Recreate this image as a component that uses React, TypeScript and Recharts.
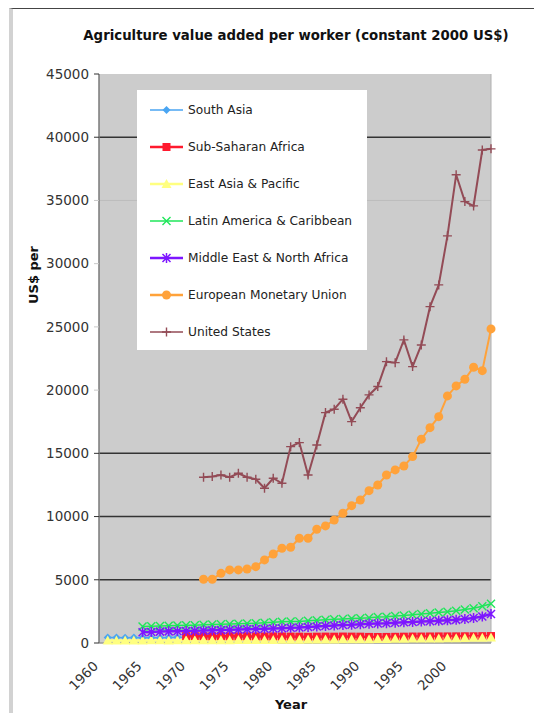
import React from "react";
import { LineChart, Line, XAxis, YAxis, CartesianGrid, ReferenceLine, Legend } from "recharts";

const years = [
  1960, 1961, 1962, 1963, 1964, 1965, 1966, 1967, 1968, 1969,
  1970, 1971, 1972, 1973, 1974, 1975, 1976, 1977, 1978, 1979,
  1980, 1981, 1982, 1983, 1984, 1985, 1986, 1987, 1988, 1989,
  1990, 1991, 1992, 1993, 1994, 1995, 1996, 1997, 1998, 1999,
  2000, 2001, 2002, 2003, 2004, 2005,
];
const xTicks = [1960, 1965, 1970, 1975, 1980, 1985, 1990, 1995, 2000];
const yTicks = [0, 5000, 10000, 15000, 20000, 25000, 30000, 35000, 40000, 45000];
const darkGrid = [5000, 10000, 15000, 40000];
const faintGrid = [35000];

// each series starts at its own year, values run to 2005
const southAsiaStart = 1961;
const southAsia = [
  430, 435, 425, 440, 420, 410, 425, 440, 445, 450, 440, 430, 435, 425, 445,
  440, 450, 455, 440, 450, 460, 465, 470, 470, 475, 480, 475, 485, 490, 495,
  495, 500, 500, 505, 505, 510, 515, 515, 520, 520, 525, 525, 520, 530, 535,
];
const subSaharanStart = 1970;
const subSaharan = [
  540, 545, 535, 530, 540, 530, 525, 530, 520, 515, 520, 515, 505, 500, 490,
  500, 505, 500, 510, 505, 500, 480, 475, 480, 490, 500, 510, 510, 515, 520,
  520, 525, 530, 530, 540, 550,
];
const eastAsiaStart = 1961;
const eastAsia = [
  190, 195, 200, 205, 205, 210, 210, 205, 210, 215, 220, 220, 225, 220, 225,
  230, 230, 235, 240, 240, 250, 255, 265, 270, 275, 280, 285, 290, 295, 300,
  305, 315, 325, 335, 345, 350, 350, 355, 365, 375, 385, 395, 410, 425, 440,
];
const latinAmericaStart = 1965;
const latinAmerica = [
  1300, 1320, 1350, 1360, 1380, 1400, 1410, 1440, 1460, 1480, 1500, 1520, 1540, 1570,
  1610, 1650, 1680, 1700, 1710, 1760, 1800, 1840, 1880, 1900, 1930, 1960, 2000, 2060,
  2080, 2130, 2170, 2230, 2300, 2360, 2420, 2480, 2560, 2650, 2750, 2900, 3100,
];
const middleEastStart = 1965;
const middleEast = [
  850, 870, 900, 920, 930, 950, 960, 980, 1000, 1020, 1050, 1070, 1090, 1110,
  1130, 1150, 1170, 1200, 1220, 1260, 1300, 1340, 1380, 1420, 1440, 1480, 1520, 1540,
  1560, 1600, 1640, 1660, 1700, 1720, 1750, 1790, 1830, 1900, 1980, 2100, 2300,
];
const euroStart = 1972;
const euro = [
  5040, 5040, 5510, 5780, 5780, 5850, 6040, 6570, 7040, 7490, 7570, 8280,
  8280, 9000, 9260, 9730, 10260, 10860, 11310, 12050, 12500, 13290, 13690, 14000,
  14740, 16120, 17030, 17900, 19540, 20330, 20860, 21810, 21540, 24840,
];
const usStart = 1972;
const unitedStates = [
  13110, 13160, 13290, 13110, 13425, 13110, 12950, 12240, 13030, 12630, 15530, 15850,
  13290, 15660, 18220, 18490, 19280, 17510, 18610, 19620, 20280, 22250, 22170, 23970,
  21860, 23570, 26600, 28320, 32200, 37030, 34910, 34570, 38990, 39080,
];

const series = [
  { key: "sa", name: "South Asia", start: southAsiaStart, values: southAsia, color: "#4aa5f2", shape: "diamond", size: 8, width: 1.5 },
  { key: "ssa", name: "Sub-Saharan Africa", start: subSaharanStart, values: subSaharan, color: "#ff1a2e", shape: "square", size: 8, width: 2.5 },
  { key: "eap", name: "East Asia & Pacific", start: eastAsiaStart, values: eastAsia, color: "#ffff80", shape: "triangle", size: 10, width: 2.5 },
  { key: "lac", name: "Latin America & Caribbean", start: latinAmericaStart, values: latinAmerica, color: "#1fe65a", shape: "x", size: 8, width: 1.5 },
  { key: "mena", name: "Middle East & North Africa", start: middleEastStart, values: middleEast, color: "#7d16ff", shape: "star", size: 8, width: 2.5 },
  { key: "emu", name: "European Monetary Union", start: euroStart, values: euro, color: "#ffa23a", shape: "circle", size: 9, width: 2 },
  { key: "us", name: "United States", start: usStart, values: unitedStates, color: "#934b56", shape: "plus", size: 9, width: 2 },
];

const data = years.map((year) => {
  const row: any = { year };
  series.forEach((s) => {
    const i = year - s.start;
    row[s.key] = i >= 0 && i < s.values.length ? s.values[i] : null;
  });
  return row;
});

const font = "'DejaVu Sans', Verdana, sans-serif";

function Marker({ cx, cy, shape, color, size }: any) {
  if (cx == null || cy == null || isNaN(cy)) return null;
  const h = size / 2;
  switch (shape) {
    case "diamond":
      return <polygon points={`${cx},${cy - h} ${cx + h},${cy} ${cx},${cy + h} ${cx - h},${cy}`} fill={color} />;
    case "square":
      return <rect x={cx - h} y={cy - h} width={size} height={size} fill={color} />;
    case "triangle":
      return <polygon points={`${cx},${cy - h} ${cx + h},${cy + h - 1} ${cx - h},${cy + h - 1}`} fill={color} />;
    case "x":
      return <path d={`M${cx - h},${cy - h}L${cx + h},${cy + h}M${cx + h},${cy - h}L${cx - h},${cy + h}`} stroke={color} strokeWidth={1.4} />;
    case "star":
      return (
        <path
          d={`M${cx - h},${cy - h}L${cx + h},${cy + h}M${cx + h},${cy - h}L${cx - h},${cy + h}M${cx},${cy - h - 1}L${cx},${cy + h + 1}`}
          stroke={color}
          strokeWidth={1.5}
        />
      );
    case "circle":
      return <circle cx={cx} cy={cy} r={h} fill={color} />;
    case "plus":
      return <path d={`M${cx - h},${cy}L${cx + h},${cy}M${cx},${cy - h}L${cx},${cy + h}`} stroke={color} strokeWidth={1.4} />;
    default:
      return null;
  }
}

function YTick({ x, y, payload }: any) {
  const v = payload.value;
  const dark = v === 0 || v === 45000 || darkGrid.includes(v);
  return (
    <g>
      <line x1={x + 5} x2={x + 10} y1={y} y2={y} stroke={dark ? "#333" : "#c8c8c8"} />
      <text x={x} y={y} dy="0.35em" textAnchor="end" fontSize={13.5} fontFamily={font} fill="#333">
        {v}
      </text>
    </g>
  );
}

function XTick({ x, y, payload }: any) {
  const ax = x;
  const ay = y + 24;
  return (
    <text x={ax} y={ay} transform={`rotate(-45 ${ax} ${ay})`} textAnchor="end" fontSize={13.5} fontFamily={font} fill="#333">
      {payload.value}
    </text>
  );
}

function LegendBox() {
  return (
    <svg width={230} height={260} style={{ display: "block" }}>
      {series.map((s, i) => {
        const cy = 20 + i * 37;
        return (
          <g key={s.key}>
            <line x1={13} x2={46} y1={cy} y2={cy} stroke={s.color} strokeWidth={s.key === "sa" || s.key === "lac" || s.key === "us" ? 1.5 : 2.5} />
            <Marker cx={29.5} cy={cy} shape={s.shape} color={s.color} size={s.size} />
            <text x={51} y={cy} dy="0.35em" fontSize={12.2} fontFamily={font} fill="#222">
              {s.name}
            </text>
          </g>
        );
      })}
    </svg>
  );
}

export default function App() {
  return (
    <div style={{ position: "relative", width: 534, height: 713, background: "#fff", overflow: "hidden" }}>
      <style>{`html, body { margin: 0; padding: 0; overflow: hidden; }`}</style>
      <div
        style={{
          position: "absolute",
          left: 9,
          top: 8,
          width: 525,
          height: 705,
          boxSizing: "border-box",
          borderTop: "1px solid #444",
          borderLeft: "4px solid #d2d2d2",
        }}
      />
      <div
        style={{
          position: "absolute",
          left: 0,
          width: 592,
          top: 28,
          textAlign: "center",
          fontFamily: font,
          fontWeight: "bold",
          fontSize: 13.3,
          color: "#111",
        }}
      >
        Agriculture value added per worker (constant 2000 US$)
      </div>
      <div
        style={{
          position: "absolute",
          left: 33,
          top: 275,
          transform: "translate(-50%, -50%) rotate(-90deg)",
          fontFamily: font,
          fontWeight: "bold",
          fontSize: 13,
          color: "#111",
          whiteSpace: "nowrap",
        }}
      >
        US$ per
      </div>
      <div style={{ position: "absolute", left: 0, top: 0 }}>
        <LineChart width={534} height={713} data={data} margin={{ top: 74, right: 43, left: 0, bottom: 0 }}>
          <CartesianGrid fill="#cccccc" horizontal={false} vertical={false} stroke="none" />
          {faintGrid.map((v) => (
            <ReferenceLine key={"f" + v} y={v} stroke="#bdbdbd" strokeWidth={1} />
          ))}
          {darkGrid.map((v) => (
            <ReferenceLine key={"d" + v} y={v} stroke="#333" strokeWidth={1.5} />
          ))}
          <ReferenceLine x={2005} stroke="#b0b0b0" strokeWidth={1} />
          <XAxis
            dataKey="year"
            type="number"
            domain={[1960, 2005]}
            ticks={xTicks}
            height={70}
            tick={<XTick />}
            tickLine={false}
            tickSize={0}
            tickMargin={0}
            axisLine={{ stroke: "#999", strokeWidth: 1.5 }}
            interval={0}
          />
          <YAxis
            domain={[0, 45000]}
            ticks={yTicks}
            width={99}
            tick={<YTick />}
            tickLine={false}
            tickSize={5}
            tickMargin={5}
            axisLine={{ stroke: "#7a7a7a", strokeWidth: 1.5 }}
            interval={0}
          />
          {series.map((s) => (
            <Line
              key={s.key}
              dataKey={s.key}
              name={s.name}
              type="linear"
              stroke={s.color}
              strokeWidth={s.width}
              isAnimationActive={false}
              activeDot={false}
              dot={(p: any) => <Marker key={s.key + p.index} cx={p.cx} cy={p.cy} shape={s.shape} color={s.color} size={s.size} />}
            />
          ))}
          <Legend
            layout="vertical"
            align="center"
            verticalAlign="middle"
            content={() => <LegendBox />}
            wrapperStyle={{ left: 137, top: 90, width: 230, height: 260, background: "#fff" }}
          />
        </LineChart>
      </div>
      <div
        style={{
          position: "absolute",
          left: 291,
          top: 697,
          transform: "translateX(-50%)",
          fontFamily: font,
          fontWeight: "bold",
          fontSize: 13,
          lineHeight: "15px",
          color: "#111",
        }}
      >
        Year
      </div>
    </div>
  );
}
